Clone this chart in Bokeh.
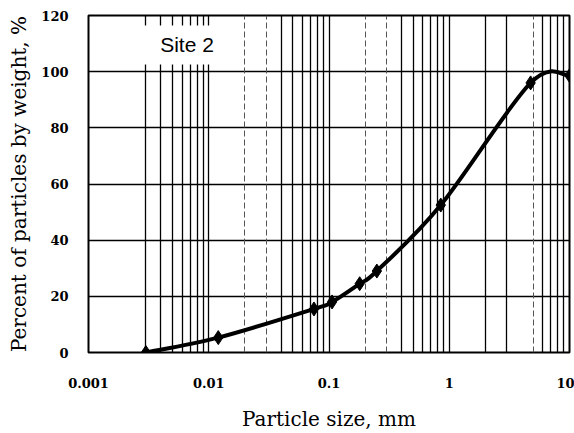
import numpy as np
from bokeh.plotting import figure
from bokeh.models import FixedTicker, Grid, Label, CustomJSTickFormatter
from bokeh.embed import file_html
from bokeh.resources import INLINE

# ---- data ----
size_mm = [0.003, 0.012, 0.075, 0.106, 0.18, 0.25, 0.85, 4.75, 10.0]
pct_finer = [0.0, 5.3, 15.5, 18.0, 24.5, 29.0, 52.5, 96.0, 98.6]

x_ticks = [0.001, 0.01, 0.1, 1, 10]
y_ticks = [0, 20, 40, 60, 80, 100, 120]
solid_vlines = [0.003, 0.004, 0.005, 0.006, 0.007, 0.008, 0.009, 0.01,
                0.04, 0.05, 0.06, 0.07, 0.08, 0.09, 0.1,
                0.4, 0.5, 0.6, 0.7, 0.8, 0.9, 1, 2, 3, 6, 7, 8, 9]
dashed_vlines = [0.02, 0.03, 0.2, 0.3, 5]
site_text = "Site 2"
site_pos = (0.0066, 109.5)

SERIF = "DejaVu Serif"

p = figure(width=574, height=433, x_axis_type="log", x_range=(0.001, 10), y_range=(0, 120),
           output_backend="svg", toolbar_location=None,
           min_border_left=88, min_border_top=15, min_border_right=5, min_border_bottom=81)
p.background_fill_color = "white"
p.border_fill_color = "white"
p.outline_line_color = "black"
p.outline_line_width = 2

# grids
p.xgrid.visible = False
p.ygrid.grid_line_color = "black"
p.ygrid.grid_line_width = 1.6
p.add_layout(Grid(dimension=0, ticker=FixedTicker(ticks=solid_vlines),
                  grid_line_color="black", grid_line_width=1.3))
p.add_layout(Grid(dimension=0, ticker=FixedTicker(ticks=dashed_vlines),
                  grid_line_color="#555555", grid_line_width=1, grid_line_dash="6 3"))

# axes
p.xaxis.ticker = FixedTicker(ticks=x_ticks, minor_ticks=[])
p.xaxis.formatter = CustomJSTickFormatter(code="return tick.toString();")
p.yaxis.ticker = FixedTicker(ticks=y_ticks, minor_ticks=[])
for ax in (p.xaxis, p.yaxis):
    ax.axis_line_color = None
    ax.major_tick_line_color = None
    ax.minor_tick_line_color = None
    ax.major_label_text_font = SERIF
    ax.major_label_text_font_style = "bold"
    ax.major_label_text_font_size = "13px"
    ax.major_label_text_color = "black"
    ax.axis_label_text_font = SERIF
    ax.axis_label_text_font_style = "normal"
    ax.axis_label_text_font_size = "20px"
    ax.axis_label_text_color = "black"
p.xaxis.axis_label = "Particle size, mm"
p.yaxis.axis_label = "Percent of particles by weight, %"
p.xaxis.major_label_standoff = 19
p.xaxis.axis_label_standoff = 16
p.yaxis.major_label_standoff = 14
p.yaxis.axis_label_standoff = 7

# smooth curve (Excel-like smoothing) built from the data points in (log x, y) space
lx = np.log10(np.array(size_mm))
yy = np.array(pct_finer)
n = len(lx)
x0, y0, x1, y1, cx0, cy0, cx1, cy1 = [], [], [], [], [], [], [], []
for i in range(n - 1):
    im1 = max(i - 1, 0)
    ip2 = min(i + 2, n - 1)
    x0.append(10 ** lx[i]); y0.append(yy[i])
    x1.append(10 ** lx[i + 1]); y1.append(yy[i + 1])
    cx0.append(10 ** (lx[i] + (lx[i + 1] - lx[im1]) / 6)); cy0.append(yy[i] + (yy[i + 1] - yy[im1]) / 6)
    cx1.append(10 ** (lx[i + 1] - (lx[ip2] - lx[i]) / 6)); cy1.append(yy[i + 1] - (yy[ip2] - yy[i]) / 6)
p.bezier(x0=x0, y0=y0, x1=x1, y1=y1, cx0=cx0, cy0=cy0, cx1=cx1, cy1=cy1,
         line_color="black", line_width=4, line_cap="round")
p.scatter(size_mm, pct_finer, marker="diamond", size=14, color="black")

p.add_layout(Label(x=site_pos[0], y=site_pos[1], text=site_text, text_font="Liberation Sans",
                   text_font_size="21px", text_color="black", text_align="center",
                   text_baseline="middle", background_fill_color="white",
                   padding=dict(left=24, right=24, top=8, bottom=8)))

open("out.html", "w").write(file_html(p, INLINE))
